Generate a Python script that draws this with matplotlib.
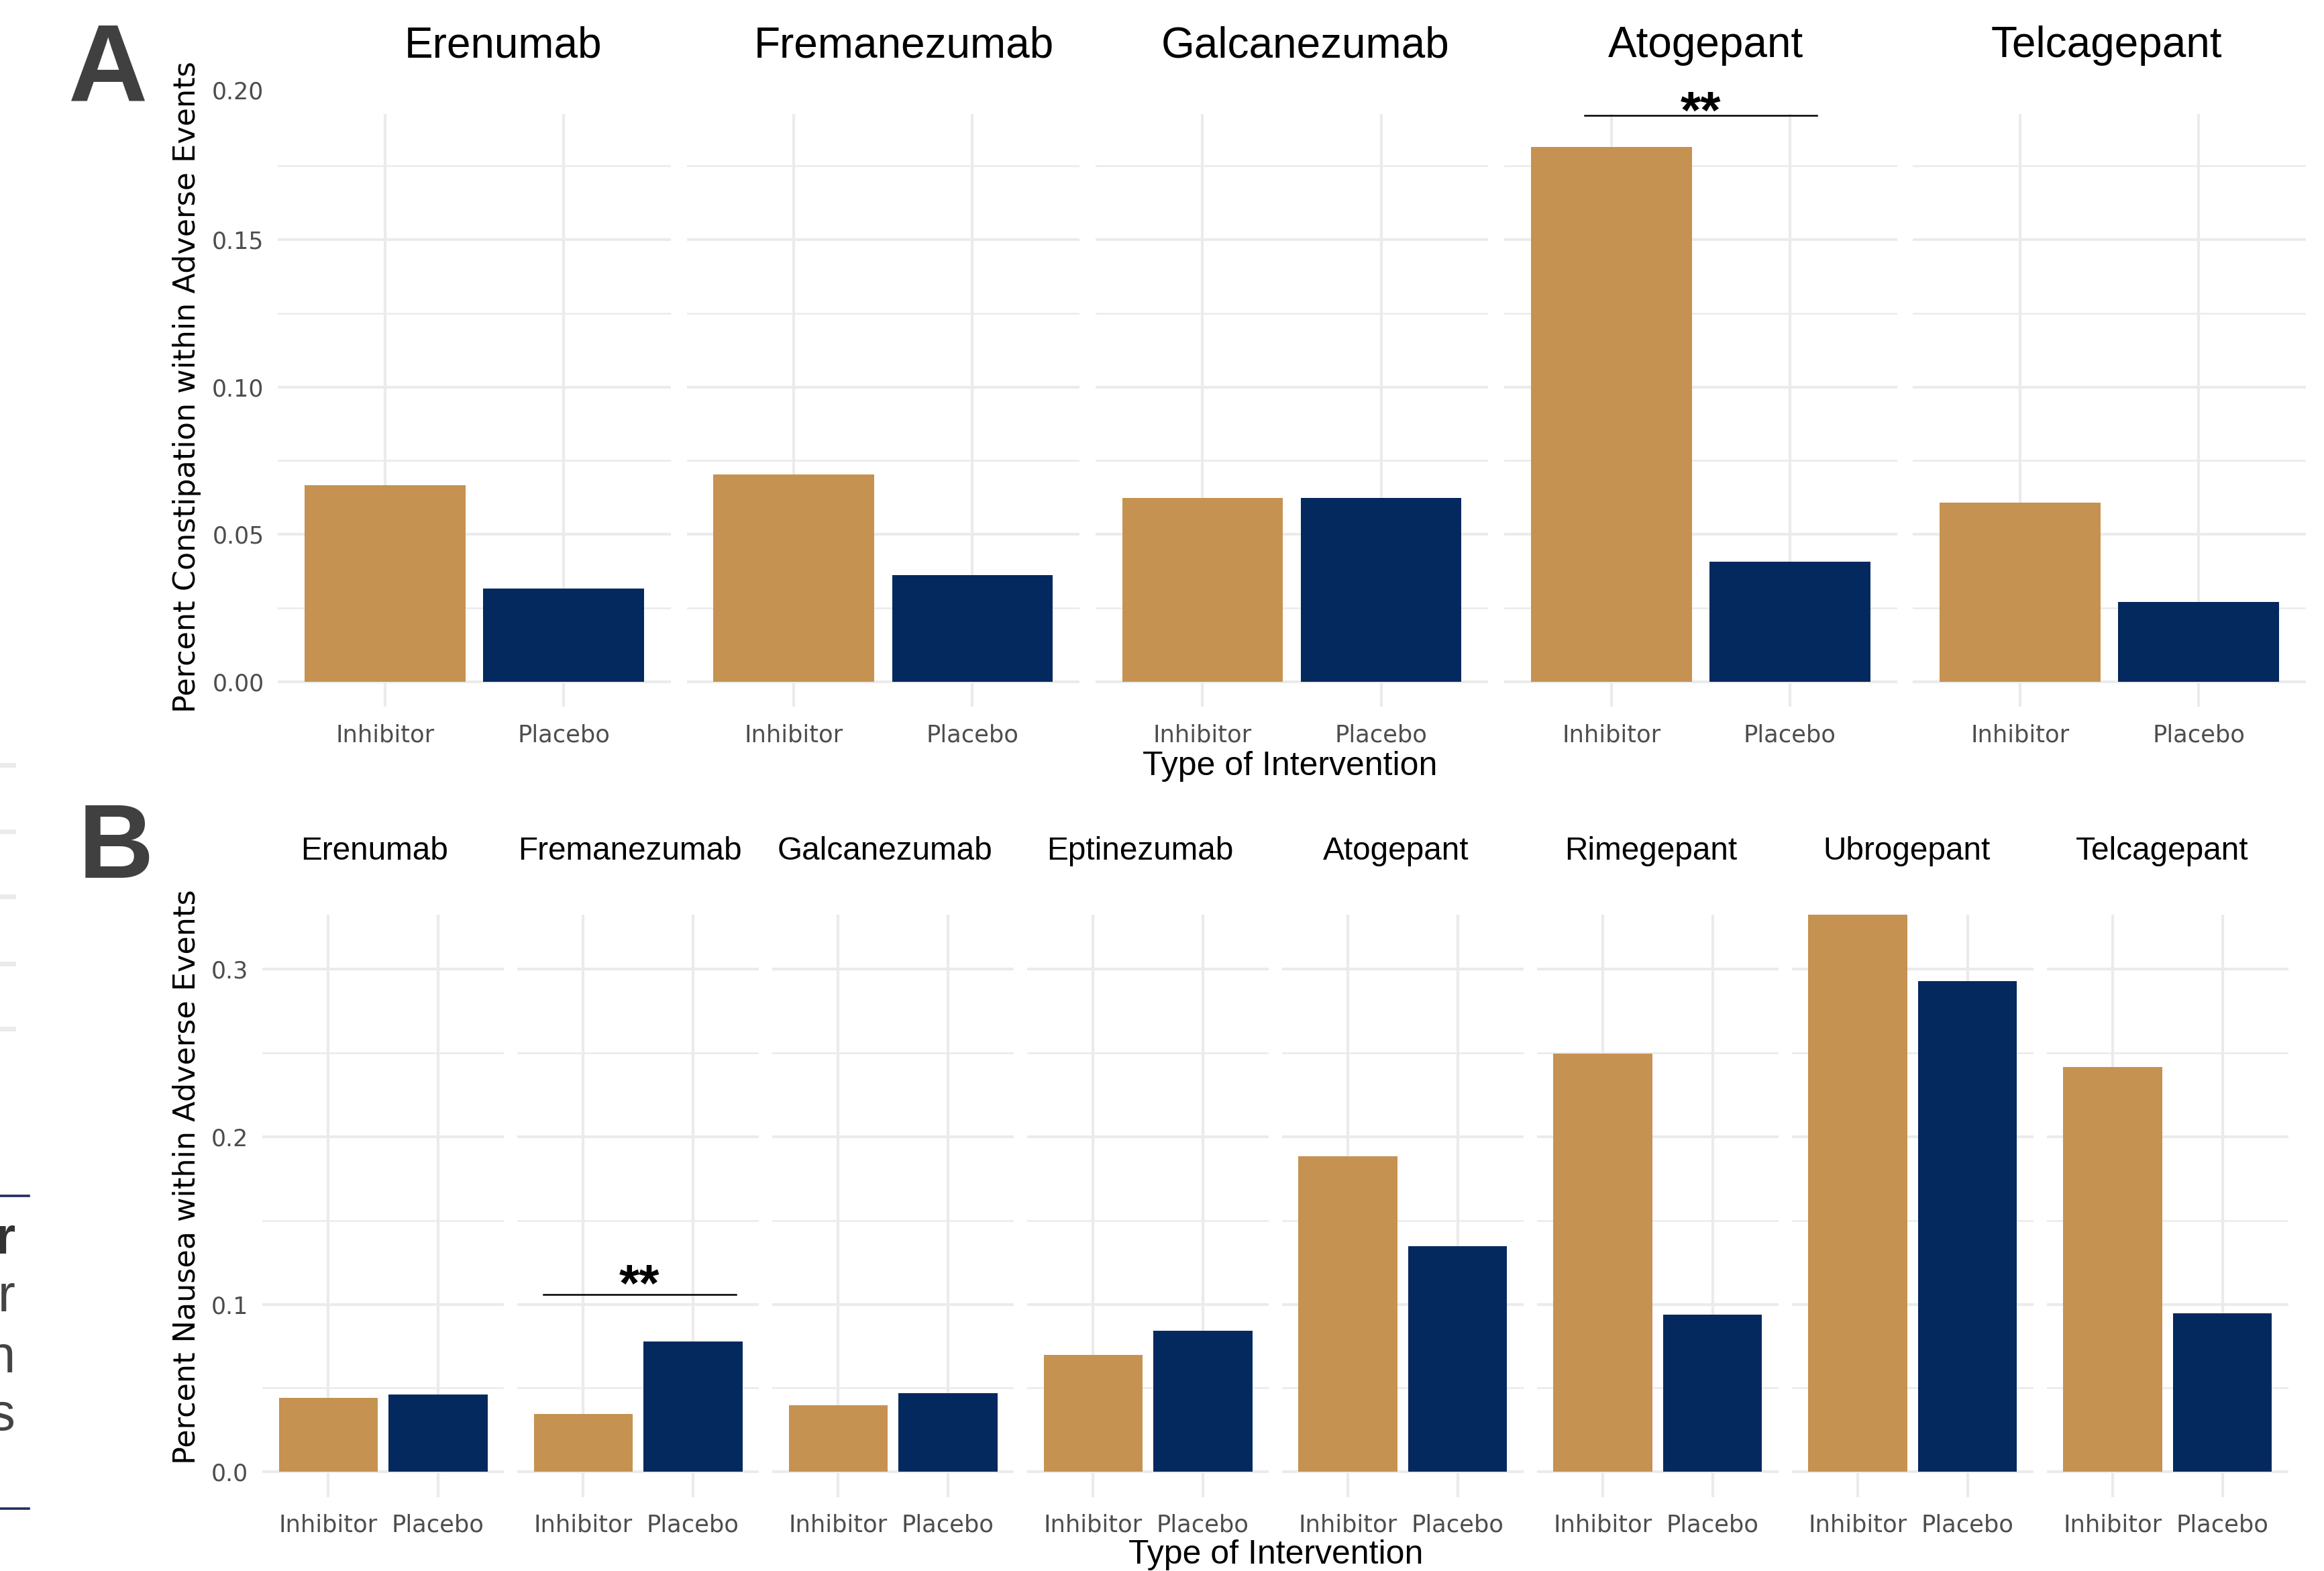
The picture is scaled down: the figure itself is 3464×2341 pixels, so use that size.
import matplotlib

matplotlib.use("Agg")
import matplotlib.pyplot as plt
from matplotlib.lines import Line2D


GOLD = "#C69251"
NAVY = "#03295F"
GRID = "#EBEBEB"
TICK_GREY = "#4D4D4D"
LETTER_GREY = "#404040"

# layout is worked out on a 1568 x 1060 grid and scaled to the figure
REF_W, REF_H = 1568.0, 1060.0

groups = ["Inhibitor", "Placebo"]

drugs_a = ["Erenumab", "Fremanezumab", "Galcanezumab", "Atogepant", "Telcagepant"]
constipation_inhibitor = [0.0668, 0.0704, 0.0623, 0.1814, 0.0608]
constipation_placebo = [0.0317, 0.0362, 0.0623, 0.0407, 0.0271]
# drug -> (x start, x end, bar height) of the significance bracket
signif_a = {"Atogepant": (0.85, 2.15, 0.192)}

drugs_b = ["Erenumab", "Fremanezumab", "Galcanezumab", "Eptinezumab",
           "Atogepant", "Rimegepant", "Ubrogepant", "Telcagepant"]
nausea_inhibitor = [0.0442, 0.0345, 0.0398, 0.0699, 0.1885, 0.2496, 0.3327, 0.2416]
nausea_placebo = [0.0460, 0.0779, 0.0469, 0.0841, 0.1345, 0.0938, 0.2929, 0.0947]
signif_b = {"Fremanezumab": (0.64, 2.39, 0.106)}

ticks_a = [0.00, 0.05, 0.10, 0.15]
minor_a = [0.025, 0.075, 0.125, 0.175]
tick_labels_a = ["0.00", "0.05", "0.10", "0.15"]
ticks_b = [0.0, 0.1, 0.2, 0.3]
minor_b = [0.05, 0.15, 0.25]
tick_labels_b = ["0.0", "0.1", "0.2", "0.3"]


def fx(x):
    return x / REF_W


def fy(y):
    return 1 - y / REF_H


def box(left, top, width, height):
    return [fx(left), fy(top + height), width / REF_W, height / REF_H]


def draw_row(fig, drugs, inh, plac, signif, left0, step, width, top, bottom,
             ylim, ticks, minor, tick_labels, strip_x0, strip_step, strip_y,
             strip_size, star_offset):
    axes = []
    for i, drug in enumerate(drugs):
        left = left0 + i * step
        ax = fig.add_axes(box(left, top, width, bottom - top))
        ax.bar([1, 2], [inh[i], plac[i]], width=0.9, color=[GOLD, NAVY],
               linewidth=0, zorder=2)
        ax.set_xlim(0.4, 2.6)
        ax.set_ylim(*ylim)
        ax.set_xticks([1, 2])
        ax.set_xticklabels(groups, fontsize=12.7, color=TICK_GREY,
                           family="DejaVu Sans")
        ax.set_yticks(ticks)
        ax.set_yticks(minor, minor=True)
        if i == 0:
            ax.set_yticklabels(tick_labels, fontsize=12.5, color=TICK_GREY,
                               family="DejaVu Sans")
        else:
            ax.tick_params(labelleft=False)
        ax.tick_params(which="both", length=0)
        ax.tick_params(axis="x", pad=9)
        ax.tick_params(axis="y", pad=7.5)
        ax.grid(axis="y", which="major", color=GRID, lw=1.5)
        ax.grid(axis="y", which="minor", color=GRID, lw=0.9)
        ax.grid(axis="x", which="major", color=GRID, lw=1.5)
        ax.set_axisbelow(True)
        for s in ax.spines.values():
            s.set_visible(False)

        if drug in signif:
            x0, x1, yb = signif[drug]
            ax.plot([x0, x1], [yb, yb], color="black", lw=0.9,
                    clip_on=False, zorder=3)
            ax.annotate("**", xy=((x0 + x1) / 2, yb), xytext=(0, star_offset),
                        textcoords="offset points", ha="center", va="baseline",
                        fontsize=28, fontweight="bold",
                        family="Liberation Sans", color="black",
                        annotation_clip=False)

        fig.text(fx(strip_x0 + i * strip_step), fy(strip_y), drug, ha="center",
                 va="center", fontsize=strip_size, family="Liberation Sans",
                 color="black")
        axes.append(ax)
    return axes


fig = plt.figure(figsize=(17.32, 11.705), dpi=200)

# panel A: constipation
axes_a = draw_row(fig, drugs_a, constipation_inhibitor, constipation_placebo,
                  signif_a, left0=187.5, step=275.8, width=265, top=77,
                  bottom=477, ylim=(-0.0085, 0.1925), ticks=ticks_a,
                  minor=minor_a, tick_labels=tick_labels_a, strip_x0=339.5,
                  strip_step=270.5, strip_y=31, strip_size=23, star_offset=-6.6)
# top tick sits just above the panel
axes_a[0].annotate("0.20", xy=(0, 0.20),
                   xycoords=("axes fraction", "data"), xytext=(-7.5, 0),
                   textcoords="offset points", ha="right", va="center",
                   fontsize=12.5, color=TICK_GREY, family="DejaVu Sans",
                   annotation_clip=False)
fig.text(fx(126), fy(261), "Percent Constipation within Adverse Events",
         rotation=90, ha="center", va="center", fontsize=16,
         family="DejaVu Sans", color="black")
fig.text(fx(870.5), fy(517), "Type of Intervention", ha="center", va="center",
         fontsize=18, family="Liberation Sans", color="black")
fig.text(fx(73), fy(49), "A", ha="center", va="center", fontsize=59,
         fontweight="bold", family="Liberation Sans", color=LETTER_GREY)

# panel B: nausea
axes_b = draw_row(fig, drugs_b, nausea_inhibitor, nausea_placebo, signif_b,
                  left0=177, step=172, width=163, top=617, bottom=1010,
                  ylim=(-0.015, 0.3327), ticks=ticks_b, minor=minor_b,
                  tick_labels=tick_labels_b, strip_x0=252.5, strip_step=172.3,
                  strip_y=574.5, strip_size=17.2, star_offset=-3.7)
fig.text(fx(126), fy(794), "Percent Nausea within Adverse Events",
         rotation=90, ha="center", va="center", fontsize=16,
         family="DejaVu Sans", color="black")
fig.text(fx(861), fy(1049), "Type of Intervention", ha="center", va="center",
         fontsize=18, family="Liberation Sans", color="black")
fig.text(fx(78), fy(574), "B", ha="center", va="center", fontsize=56,
         fontweight="bold", family="Liberation Sans", color=LETTER_GREY)

# clipped remains of a neighbouring figure along the left edge
for y in [516, 561, 605, 650, 694]:
    fig.add_artist(Line2D([0, fx(9)], [fy(y), fy(y)], color=GRID, lw=2.5))
for y in [806.7, 1017.8]:
    fig.add_artist(Line2D([0, fx(19.6)], [fy(y), fy(y)], color="#1F2D5C", lw=1.3))
for y, ch, weight, color in [(833, "r", "bold", "#333333"),
                             (872, "r", "normal", "#444444"),
                             (913, "n", "normal", "#444444"),
                             (952, "s", "normal", "#444444")]:
    fig.text(fx(10.4), fy(y), ch, ha="right", va="center_baseline",
             fontsize=28, fontweight=weight, family="Liberation Sans",
             color=color)

fig.savefig("out.png", dpi=200, facecolor="white")
